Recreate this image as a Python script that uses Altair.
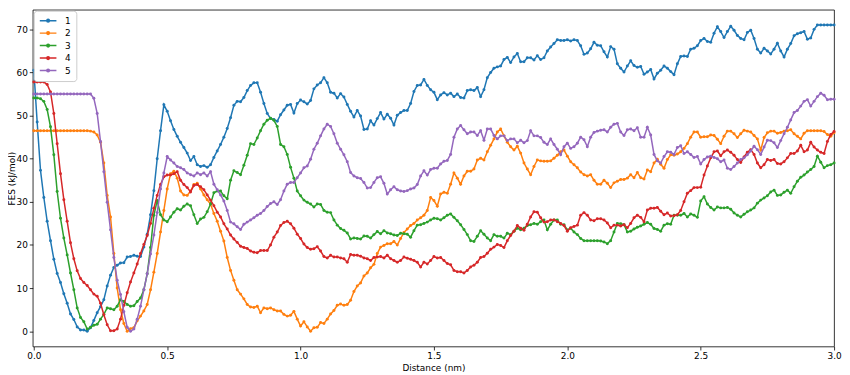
import altair as alt
import pandas as pd

# x grid: 0.0 .. 3.0 in steps of 0.0125 (241 samples)
x_values = [round(i * 0.0125, 4) for i in range(241)]

series_names = ["1", "2", "3", "4", "5"]
colors = ["#1f77b4", "#ff7f0e", "#2ca02c", "#d62728", "#9467bd"]

fes_1 = [
    60.5, 48.5, 37.3, 31.0, 25.5, 21.0, 16.7, 13.4,
    11.3, 8.7, 6.5, 4.0, 2.7, 1.0, 0.3, 0.3,
    0.0, 0.8, 2.5, 4.3, 5.7, 7.3, 10.5, 13.0,
    14.8, 15.3, 15.8, 15.9, 17.2, 17.3, 17.6, 17.4,
    17.3, 19.5, 22.5, 27.0, 32.6, 40.0, 46.5, 52.5,
    51.0, 48.8, 46.8, 45.2, 43.8, 42.6, 41.3, 39.6,
    40.5, 38.6, 38.2, 38.4, 38.0, 38.6, 40.3, 41.8,
    43.3, 45.0, 47.0, 49.5, 52.4, 53.3, 53.2, 54.2,
    55.8, 57.0, 57.6, 57.6, 55.4, 52.8, 50.5, 49.3,
    49.1, 48.7, 50.2, 51.3, 52.4, 52.6, 50.6, 52.8,
    53.6, 53.2, 52.7, 53.5, 56.2, 57.1, 57.6, 58.8,
    57.6, 55.4, 55.2, 54.1, 55.1, 54.3, 52.6, 51.0,
    49.7, 51.2, 49.9, 46.8, 46.9, 48.8, 47.8, 49.3,
    50.7, 49.2, 50.3, 49.4, 47.8, 50.1, 50.7, 51.2,
    51.2, 52.8, 55.6, 57.0, 57.1, 58.4, 57.0, 56.0,
    55.4, 53.7, 54.8, 55.3, 54.8, 55.2, 54.4, 55.0,
    54.2, 54.1, 55.8, 56.0, 55.8, 56.5, 54.4, 56.0,
    58.8, 60.0, 61.0, 61.3, 61.5, 63.0, 63.5, 62.3,
    63.6, 64.4, 62.5, 62.5, 63.4, 63.4, 62.9, 63.9,
    63.0, 63.4, 65.0, 65.9, 66.7, 67.6, 67.4, 67.4,
    67.6, 67.3, 67.6, 67.4, 66.2, 64.2, 64.5, 65.5,
    67.0, 66.3, 66.2, 64.8, 63.6, 66.0, 65.4, 62.0,
    61.0, 60.1, 61.5, 62.7, 61.6, 61.2, 61.4, 59.6,
    60.1, 60.7, 58.5, 59.8, 60.5, 61.5, 61.0, 60.2,
    59.5, 62.0, 63.7, 63.8, 63.7, 65.4, 65.6, 66.2,
    67.4, 67.9, 67.2, 67.0, 69.1, 70.6, 69.5, 68.1,
    69.5, 70.7, 69.8, 68.6, 67.9, 67.6, 69.3, 69.8,
    67.9, 65.4, 64.5, 65.6, 65.0, 64.3, 65.4, 66.8,
    65.0, 63.6, 65.4, 66.7, 68.5, 69.0, 69.2, 69.5,
    67.7, 68.0, 70.0, 71.0, 71.0, 71.0, 71.0, 71.0,
    71.0,
]

fes_2 = [
    46.5, 46.5, 46.5, 46.5, 46.5, 46.5, 46.5, 46.5,
    46.5, 46.5, 46.5, 46.5, 46.5, 46.5, 46.5, 46.5,
    46.5, 46.4, 46.2, 45.5, 43.8, 39.0, 31.5, 26.5,
    18.0, 10.0, 5.0, 1.8, 0.0, 0.6, 0.8, 2.4,
    3.5, 4.7, 6.2, 9.6, 13.7, 18.0, 23.0, 28.0,
    33.0, 36.5, 37.1, 35.5, 32.5, 31.6, 31.5, 32.5,
    34.0, 34.3, 33.0, 31.6, 30.5, 29.5, 27.3, 25.5,
    23.2, 20.9, 17.1, 14.1, 11.8, 9.6, 8.6, 7.5,
    6.2, 5.6, 5.5, 5.8, 4.3, 5.4, 5.2, 5.4,
    5.0, 4.7, 4.7, 3.9, 3.5, 3.7, 4.6, 2.8,
    1.2, 2.2, 1.0, 0.0, 0.8, 0.9, 2.0, 1.8,
    2.8, 4.0, 4.8, 6.0, 6.3, 6.0, 6.2, 7.2,
    9.2, 10.5, 11.2, 12.8, 13.5, 14.7, 15.5, 18.0,
    19.5, 19.9, 20.3, 20.3, 20.8, 20.0, 21.5, 22.9,
    23.7, 24.5, 25.0, 25.8, 26.3, 26.9, 28.0, 31.0,
    30.3, 29.0, 31.8, 32.2, 32.0, 34.1, 36.7, 35.5,
    34.1, 36.0, 37.1, 37.1, 37.6, 39.7, 40.1, 39.7,
    41.6, 43.1, 44.6, 46.2, 46.9, 45.3, 43.8, 42.8,
    42.0, 42.9, 41.3, 39.0, 37.6, 36.3, 38.2, 39.7,
    39.5, 39.4, 39.4, 39.5, 40.1, 40.8, 41.6, 42.0,
    40.6, 39.3, 38.6, 37.9, 36.9, 36.3, 36.0, 36.3,
    35.0, 34.1, 34.1, 35.0, 34.3, 33.3, 34.4, 34.8,
    35.2, 35.2, 35.5, 36.3, 35.6, 36.8, 35.6, 35.3,
    37.4, 37.0, 39.0, 39.9, 38.7, 37.8, 39.8, 40.9,
    40.8, 41.1, 41.6, 42.4, 43.5, 45.0, 46.2, 46.2,
    45.0, 45.1, 45.1, 45.5, 45.4, 44.5, 43.5, 45.2,
    46.4, 46.4, 45.8, 44.9, 45.8, 46.6, 46.4, 46.2,
    45.4, 44.6, 42.0, 44.9, 46.0, 46.4, 46.4, 45.9,
    46.1, 46.4, 46.5, 46.7, 45.8, 45.2, 44.6, 45.9,
    46.5, 46.5, 46.5, 46.5, 46.5, 46.3, 45.6, 45.2,
    46.0,
]

fes_3 = [
    54.1, 54.1, 53.9, 53.3, 51.4, 47.4, 40.9, 32.4,
    26.2, 21.6, 17.7, 13.5, 9.6, 5.4, 3.2, 2.2,
    0.5, 0.9, 1.4, 1.6, 2.8, 3.9, 5.4, 5.2,
    5.0, 5.8, 7.3, 6.9, 6.2, 5.8, 5.9, 6.9,
    7.7, 9.6, 13.3, 19.4, 26.9, 30.3, 27.0, 25.8,
    25.4, 26.5, 27.6, 28.4, 28.1, 29.0, 29.5, 29.1,
    27.0, 25.0, 26.0, 26.4, 27.7, 29.5, 32.1, 32.5,
    32.5, 31.4, 30.7, 35.0, 37.2, 36.8, 36.3, 38.5,
    40.8, 43.5, 43.3, 44.8, 46.5, 48.0, 48.9, 49.4,
    48.9, 47.5, 43.3, 42.8, 41.0, 38.0, 35.5, 32.5,
    31.4, 30.4, 29.9, 29.5, 28.8, 29.5, 29.4, 28.0,
    27.6, 27.5, 25.8, 24.6, 23.8, 23.4, 22.8, 21.4,
    21.6, 21.5, 21.4, 22.1, 22.0, 21.6, 22.4, 23.1,
    22.6, 23.3, 22.8, 22.6, 22.3, 22.2, 22.7, 22.6,
    22.5, 21.8, 23.3, 24.6, 24.7, 25.0, 25.3, 25.8,
    26.2, 26.1, 25.8, 26.3, 26.9, 27.2, 26.4, 25.6,
    24.7, 23.6, 22.4, 21.0, 20.8, 22.0, 23.3, 22.5,
    21.6, 21.0, 22.4, 22.0, 22.0, 21.6, 22.7, 22.4,
    23.2, 23.9, 23.5, 23.9, 24.5, 24.7, 25.0, 24.8,
    25.4, 25.8, 23.5, 24.8, 25.8, 25.8, 24.8, 24.7,
    23.5, 23.9, 23.0, 22.4, 21.5, 21.0, 21.0, 21.0,
    21.0, 21.0, 20.9, 20.7, 20.3, 21.0, 23.0, 25.0,
    24.9, 24.7, 23.0, 23.2, 23.7, 24.1, 24.4, 24.8,
    25.2, 24.8, 23.8, 23.6, 23.2, 24.6, 24.9, 24.8,
    26.9, 26.9, 26.9, 27.3, 26.5, 27.2, 26.9, 26.4,
    30.2, 31.2, 29.5, 28.7, 28.1, 28.8, 28.6, 28.6,
    28.7, 28.3, 27.4, 26.9, 26.5, 27.1, 27.7, 28.1,
    28.6, 29.7, 30.4, 30.9, 31.4, 32.3, 32.7, 31.5,
    31.6, 32.2, 32.7, 32.0, 33.5, 34.8, 35.7, 36.2,
    36.9, 37.5, 38.2, 40.6, 39.2, 37.9, 38.4, 38.6,
    39.0,
]

fes_4 = [
    57.8, 57.8, 57.8, 57.8, 57.2, 55.5, 50.5, 43.5,
    36.5, 30.5, 25.5, 20.5, 16.8, 14.0, 12.2, 11.3,
    10.6, 9.6, 8.6, 8.1, 6.5, 3.8, 1.5, 0.1,
    0.1, 0.5, 2.8, 6.0, 8.9, 11.4, 13.5, 15.6,
    18.0, 20.1, 22.2, 25.0, 28.5, 31.5, 34.0, 35.8,
    36.2, 36.2, 36.5, 37.0, 35.0, 34.0, 33.3, 32.3,
    33.8, 34.0, 33.5, 32.8, 31.6, 30.4, 29.1, 27.6,
    26.5, 24.9, 23.7, 22.3, 21.4, 20.6, 19.7, 19.4,
    19.2, 18.6, 18.3, 18.2, 18.7, 18.7, 18.7, 20.0,
    21.8, 23.0, 24.5, 25.2, 25.5, 24.9, 23.9, 22.5,
    21.5, 20.2, 19.4, 19.0, 19.1, 19.6, 18.6, 17.3,
    17.0, 17.6, 17.2, 17.2, 17.0, 16.8, 16.0, 17.8,
    17.6, 17.6, 17.4, 17.0, 16.8, 16.4, 17.1, 17.2,
    17.3, 17.0, 17.6, 16.8, 16.4, 16.0, 16.4, 17.2,
    16.9, 16.7, 16.4, 16.0, 14.9, 16.0, 15.6, 16.4,
    17.3, 17.0, 17.1, 16.4, 15.7, 15.4, 14.1, 13.8,
    13.8, 13.5, 14.1, 14.9, 15.3, 16.0, 17.1, 17.3,
    18.1, 19.0, 19.5, 20.1, 19.9, 19.4, 21.0, 22.2,
    23.2, 24.5, 23.9, 23.4, 24.8, 26.5, 27.7, 27.6,
    26.3, 25.3, 25.4, 25.8, 25.8, 25.4, 25.0, 24.5,
    23.2, 24.0, 24.3, 24.6, 26.9, 27.5, 26.9, 25.8,
    25.6, 26.1, 26.1, 25.8, 25.1, 24.0, 24.6, 24.6,
    24.4, 24.7, 24.0, 25.0, 26.3, 26.9, 26.4, 25.4,
    28.1, 28.5, 28.5, 28.7, 27.8, 27.0, 27.4, 26.7,
    26.8, 27.0, 28.0, 30.0, 32.0, 32.6, 33.3, 33.3,
    33.4, 36.2, 38.3, 40.2, 41.6, 41.8, 40.7, 41.6,
    42.0, 41.5, 40.8, 39.8, 39.1, 40.4, 41.5, 42.1,
    41.0, 39.0, 37.9, 38.6, 39.8, 39.6, 39.8, 38.9,
    38.8, 39.3, 40.2, 41.2, 41.2, 41.8, 43.1, 41.6,
    42.0, 43.8, 42.7, 42.0, 41.5, 41.2, 44.0, 45.6,
    46.3,
]

fes_5 = [
    55.0, 55.0, 55.0, 55.0, 55.0, 55.0, 55.0, 55.0,
    55.0, 55.0, 55.0, 55.0, 55.0, 55.0, 55.0, 55.0,
    55.0, 55.0, 54.0, 50.5, 44.0, 37.0, 29.9, 23.5,
    17.1, 11.8, 8.5, 4.5, 0.9, 0.0, 0.5, 2.8,
    5.8, 9.6, 13.3, 17.9, 22.3, 27.5, 33.0, 36.7,
    40.5, 39.7, 39.0, 38.2, 37.9, 37.5, 36.7, 36.3,
    36.0, 36.7, 36.3, 36.7, 36.0, 37.0, 34.1, 32.8,
    31.6, 30.2, 28.0, 25.3, 24.9, 24.2, 23.6, 24.8,
    25.3, 25.8, 26.3, 26.9, 27.3, 28.0, 28.9, 29.6,
    30.0, 29.4, 30.5, 32.5, 34.1, 34.5, 34.5, 35.6,
    36.7, 37.9, 38.3, 39.9, 42.2, 43.6, 45.3, 46.9,
    48.0, 47.5, 45.8, 43.6, 42.2, 40.9, 39.3, 36.8,
    36.0, 35.6, 35.4, 34.5, 33.2, 33.3, 34.5, 35.6,
    35.8, 34.3, 31.8, 32.8, 33.5, 32.8, 32.5, 32.4,
    32.6, 33.0, 33.2, 34.0, 36.0, 37.2, 36.2, 37.5,
    37.8, 37.8, 38.8, 39.4, 39.6, 41.0, 45.0, 46.9,
    47.7, 46.7, 45.8, 46.2, 46.2, 45.4, 46.5, 44.3,
    46.9, 46.9, 45.4, 44.6, 45.3, 45.3, 44.2, 44.6,
    44.6, 43.7, 44.3, 43.7, 44.2, 46.5, 45.3, 45.3,
    44.9, 43.8, 43.3, 44.6, 43.3, 42.2, 40.9, 42.8,
    43.6, 42.4, 42.8, 43.6, 45.0, 44.4, 42.8, 45.0,
    46.1, 46.4, 46.6, 46.7, 46.2, 47.3, 48.0, 48.2,
    46.2, 45.4, 46.7, 46.9, 46.5, 47.2, 45.0, 45.0,
    47.3, 45.5, 41.0, 39.5, 39.0, 40.5, 41.6, 41.5,
    41.0, 42.6, 43.0, 41.2, 41.6, 41.0, 40.3, 40.5,
    38.8, 39.8, 40.4, 40.6, 40.3, 40.0, 39.3, 39.7,
    37.8, 37.5, 38.2, 39.0, 39.8, 40.2, 40.9, 41.8,
    42.9, 42.1, 41.0, 42.7, 44.3, 44.2, 43.7, 42.6,
    44.2, 45.8, 47.3, 49.0, 50.7, 51.2, 52.2, 53.3,
    53.7, 52.2, 53.3, 54.4, 55.2, 54.7, 53.7, 53.8,
    53.8,
]

all_series = [fes_1, fes_2, fes_3, fes_4, fes_5]
for s in all_series:
    assert len(s) == len(x_values), len(s)

x_ticks = [0.0, 0.5, 1.0, 1.5, 2.0, 2.5, 3.0]
y_ticks = [0, 10, 20, 30, 40, 50, 60, 70]

rows = []
for name, vals in zip(series_names, all_series):
    for xv, yv in zip(x_values, vals):
        rows.append({"distance": xv, "fes": yv, "series": name})
df = pd.DataFrame(rows)

# legend glyph: short line with a dot in its middle (unit = 4 px at size 64)
legend_symbol = (
    "M-2.1,0L2.1,0"
    "M-0.33,0A0.33,0.33,0,1,0,0.33,0A0.33,0.33,0,1,0,-0.33,0"
    "M-0.15,0A0.15,0.15,0,1,0,0.15,0A0.15,0.15,0,1,0,-0.15,0"
)

color = alt.Color(
    "series:N",
    scale=alt.Scale(domain=series_names, range=colors),
    legend=alt.Legend(
        title=None,
        orient="top-left",
        offset=1,
        padding=5,
        fillColor="white",
        strokeColor="#cccccc",
        cornerRadius=3,
        labelFont="DejaVu Sans",
        labelFontSize=9,
        labelColor="black",
        labelOffset=12,
        symbolType=legend_symbol,
        symbolSize=64,
        symbolOffset=4.5,
        symbolStrokeWidth=1.5,
        rowPadding=2.6,
    ),
)

xenc = alt.X(
    "distance:Q",
    scale=alt.Scale(domain=[-0.004, 3.0], nice=False, zero=False),
    axis=alt.Axis(
        values=x_ticks,
        format=".1f",
        title="Distance (nm)",
        labelFlush=False,
        labelOverlap=False,
        titleY=24,
        titleBaseline="alphabetic",
    ),
)
yenc = alt.Y(
    "fes:Q",
    scale=alt.Scale(domain=[-3.55, 74.55], nice=False, zero=False),
    axis=alt.Axis(
        values=y_ticks,
        format="d",
        title="FES (kJ/mol)",
        labelOverlap=False,
        titleX=-25,
        titleBaseline="top",
    ),
)

layers = []
for name in series_names:
    base = alt.Chart(df).transform_filter(alt.datum.series == name)
    line = base.mark_line(strokeWidth=1.5).encode(x=xenc, y=yenc, color=color)
    pts = base.mark_circle(size=9, opacity=1).encode(x=xenc, y=yenc, color=color)
    layers.extend([line, pts])

chart = (
    alt.layer(*layers)
    .properties(
        width=809,
        height=340,
        autosize=alt.AutoSizeParams(type="none"),
        padding={"left": 25, "top": 0, "right": 8, "bottom": 27},
    )
    .configure_view(stroke="black", strokeWidth=0.8)
    .configure_axis(
        domain=False,
        grid=False,
        labelFont="DejaVu Sans",
        labelFontSize=9,
        labelColor="black",
        labelPadding=2,
        tickColor="black",
        tickSize=3.5,
        tickWidth=0.8,
        titleFont="DejaVu Sans",
        titleFontSize=9,
        titleFontWeight="normal",
        titleColor="black",
    )
)

chart.save("out.html", embed_options={"renderer": "svg", "actions": False})
